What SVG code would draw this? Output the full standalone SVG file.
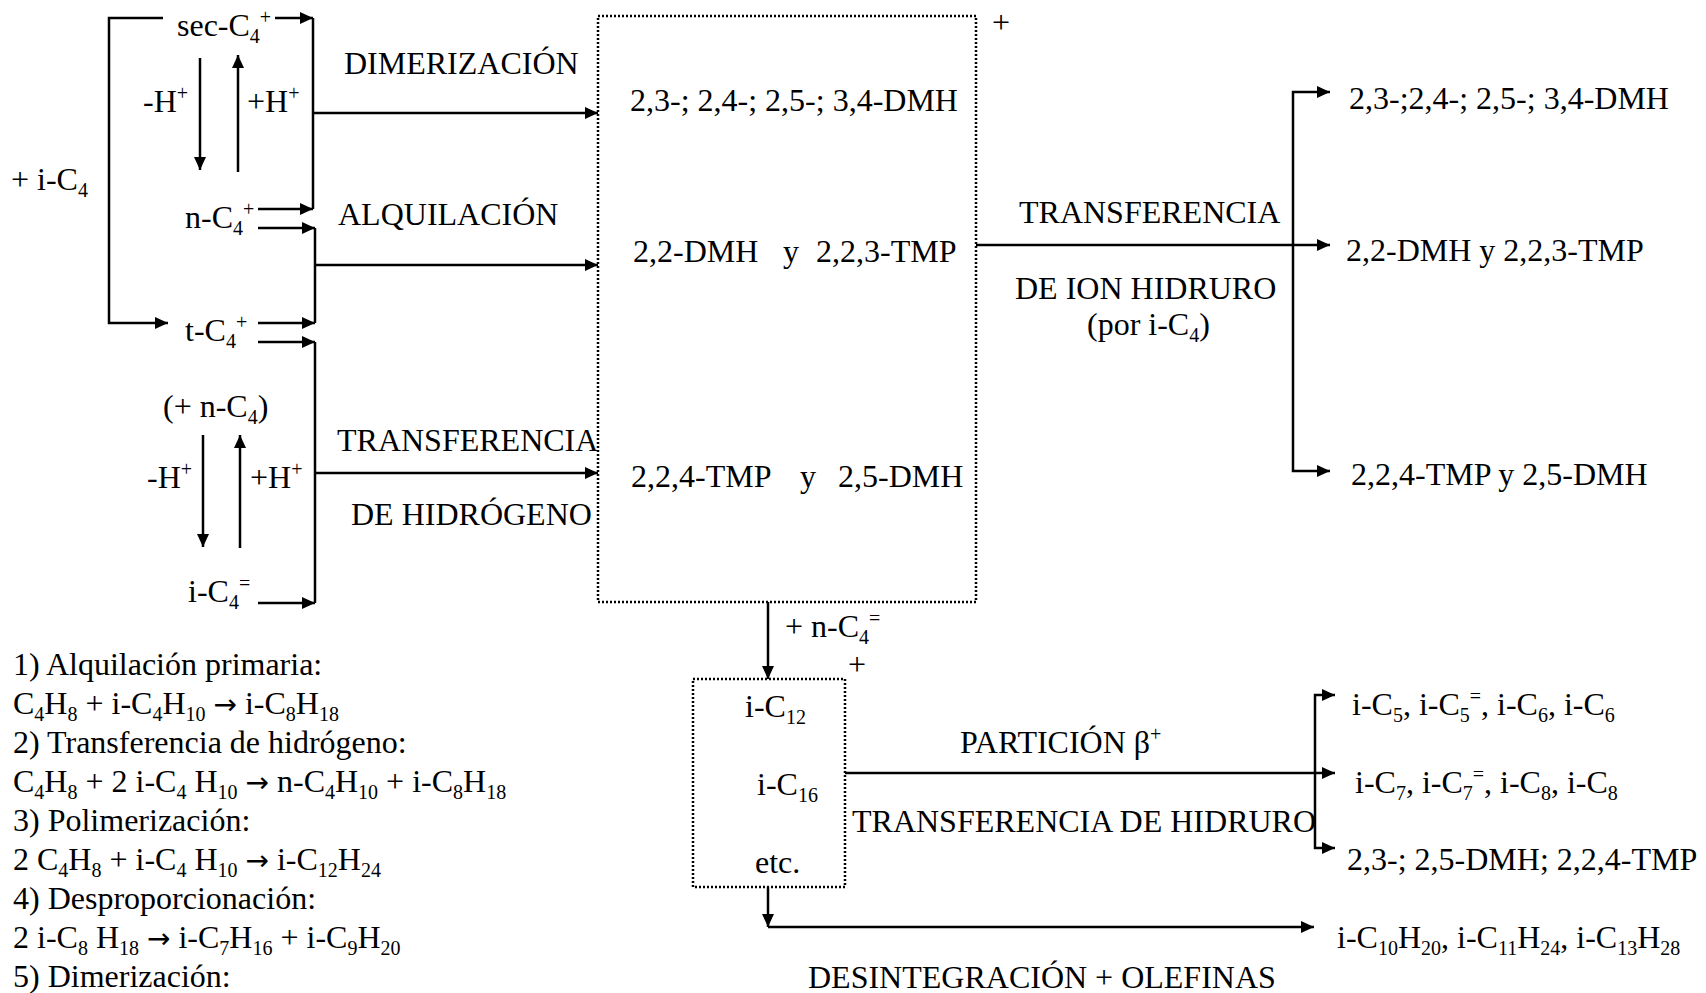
<svg xmlns="http://www.w3.org/2000/svg" width="1706" height="993" viewBox="0 0 1706 993">
<defs>
<style>
.t{font-family:"Liberation Serif","Times New Roman",serif;font-size:32px;fill:#000}
.s{font-size:20px}
.ar{font-family:"DejaVu Sans",sans-serif;font-size:28px}
.ln{fill:none;stroke:#000;stroke-width:2.5}
.box{fill:none;stroke:#000;stroke-width:2.5;stroke-dasharray:2 2}
</style>
<marker id="ah" markerUnits="userSpaceOnUse" markerWidth="14" markerHeight="12" refX="13" refY="6" orient="auto">
<path d="M0,0 L13,6 L0,12 z" fill="#000"/>
</marker>
</defs>
<rect width="1706" height="993" fill="#fff"/>

<g id="connectors">
<path class="ln" d="M163,18 H109 V323 H168" marker-end="url(#ah)"/>
<path class="ln" d="M275,18 H313" marker-end="url(#ah)"/>
<path class="ln" d="M313,18 V209"/>
<path class="ln" d="M313,113 H598" marker-end="url(#ah)"/>
<path class="ln" d="M258,209 H313" marker-end="url(#ah)"/>
<path class="ln" d="M258,228 H315" marker-end="url(#ah)"/>
<path class="ln" d="M315,228 V323"/>
<path class="ln" d="M315,265 H598" marker-end="url(#ah)"/>
<path class="ln" d="M258,323 H315" marker-end="url(#ah)"/>
<path class="ln" d="M258,342 H315" marker-end="url(#ah)"/>
<path class="ln" d="M315,342 V603"/>
<path class="ln" d="M315,473 H598" marker-end="url(#ah)"/>
<path class="ln" d="M258,603 H315" marker-end="url(#ah)"/>
<path class="ln" d="M200,58 V170" marker-end="url(#ah)"/>
<path class="ln" d="M238,172 V55" marker-end="url(#ah)"/>
<path class="ln" d="M203,435 V547" marker-end="url(#ah)"/>
<path class="ln" d="M240,548 V435" marker-end="url(#ah)"/>
<path class="ln" d="M976,245 H1330" marker-end="url(#ah)"/>
<path class="ln" d="M1293,245 V92 H1330" marker-end="url(#ah)"/>
<path class="ln" d="M1293,245 V471 H1330" marker-end="url(#ah)"/>
<path class="ln" d="M768,602 V679" marker-end="url(#ah)"/>
<path class="ln" d="M845,773 H1335" marker-end="url(#ah)"/>
<path class="ln" d="M1315,773 V695 H1335" marker-end="url(#ah)"/>
<path class="ln" d="M1315,773 V848 H1335" marker-end="url(#ah)"/>
<path class="ln" d="M768,887 V927" marker-end="url(#ah)"/>
<path class="ln" d="M768,927 H1314" marker-end="url(#ah)"/>
</g>

<g id="sec-c4">
<text class="t" x="177" y="36">sec-C<tspan class="s" dy="7">4</tspan><tspan class="s" dy="-19">+</tspan></text>
</g>
<g id="eq-labels-top">
<text class="t" x="143" y="112">-H<tspan class="s" dy="-12">+</tspan></text>
<text class="t" x="247" y="112">+H<tspan class="s" dy="-12">+</tspan></text>
<text class="t" x="11" y="190">+ i-C<tspan class="s" dy="7">4</tspan></text>
</g>
<g id="n-c4">
<text class="t" x="185" y="228">n-C<tspan class="s" dy="7">4</tspan><tspan class="s" dy="-19">+</tspan></text>
</g>
<g id="t-c4">
<text class="t" x="185" y="341">t-C<tspan class="s" dy="7">4</tspan><tspan class="s" dy="-19">+</tspan></text>
</g>
<g id="eq-labels-bottom">
<text class="t" x="163" y="417">(+ n-C<tspan class="s" dy="7">4</tspan><tspan dy="-7">)</tspan></text>
<text class="t" x="147" y="488">-H<tspan class="s" dy="-12">+</tspan></text>
<text class="t" x="250" y="488">+H<tspan class="s" dy="-12">+</tspan></text>
</g>
<g id="i-c4-olefin">
<text class="t" x="188" y="602">i-C<tspan class="s" dy="7">4</tspan><tspan class="s" dy="-19">=</tspan></text>
</g>

<g id="reaction-labels">
<text class="t" x="344" y="74">DIMERIZACIÓN</text>
<text class="t" x="338" y="225">ALQUILACIÓN</text>
<text class="t" x="337" y="451">TRANSFERENCIA</text>
<text class="t" x="351" y="525">DE HIDRÓGENO</text>
</g>

<g id="box-main">
<rect class="box" x="598" y="16" width="378" height="586"/>
<text class="t" x="630" y="111">2,3-; 2,4-; 2,5-; 3,4-DMH</text>
<text class="t" y="262"><tspan x="633">2,2-DMH</tspan><tspan x="783">y</tspan><tspan x="816">2,2,3-TMP</tspan></text>
<text class="t" y="487"><tspan x="631">2,2,4-TMP</tspan><tspan x="800">y</tspan><tspan x="838">2,5-DMH</tspan></text>
<text class="t" x="992" y="33">+</text>
</g>

<g id="hydride-transfer-label">
<text class="t" x="1019" y="223">TRANSFERENCIA</text>
<text class="t" x="1015" y="299">DE ION HIDRURO</text>
<text class="t" x="1087" y="335">(por i-C<tspan class="s" dy="7">4</tspan><tspan dy="-7">)</tspan></text>
</g>

<g id="products-top">
<text class="t" x="1349" y="109">2,3-;2,4-; 2,5-; 3,4-DMH</text>
<text class="t" x="1346" y="261">2,2-DMH y 2,2,3-TMP</text>
<text class="t" x="1351" y="485">2,2,4-TMP y 2,5-DMH</text>
</g>

<g id="box-heavy">
<rect class="box" x="693" y="679" width="152" height="208"/>
<text class="t" x="785" y="637">+ n-C<tspan class="s" dy="7">4</tspan><tspan class="s" dy="-19">=</tspan></text>
<text class="t" x="848" y="675">+</text>
<text class="t" x="745" y="717">i-C<tspan class="s" dy="7">12</tspan></text>
<text class="t" x="757" y="795">i-C<tspan class="s" dy="7">16</tspan></text>
<text class="t" x="755" y="873">etc.</text>
</g>

<g id="cracking-labels">
<text class="t" x="960" y="753">PARTICIÓN β<tspan class="s" dy="-12">+</tspan></text>
<text class="t" x="852" y="832">TRANSFERENCIA DE HIDRURO</text>
<text class="t" x="808" y="988">DESINTEGRACIÓN + OLEFINAS</text>
</g>

<g id="products-bottom">
<text class="t" x="1352" y="715">i-C<tspan class="s" dy="7">5</tspan><tspan dy="-7">, i-C</tspan><tspan class="s" dy="7">5</tspan><tspan class="s" dy="-19">=</tspan><tspan dy="12">, i-C</tspan><tspan class="s" dy="7">6</tspan><tspan dy="-7">, i-C</tspan><tspan class="s" dy="7">6</tspan></text>
<text class="t" x="1355" y="793">i-C<tspan class="s" dy="7">7</tspan><tspan dy="-7">, i-C</tspan><tspan class="s" dy="7">7</tspan><tspan class="s" dy="-19">=</tspan><tspan dy="12">, i-C</tspan><tspan class="s" dy="7">8</tspan><tspan dy="-7">, i-C</tspan><tspan class="s" dy="7">8</tspan></text>
<text class="t" x="1347" y="870">2,3-; 2,5-DMH; 2,2,4-TMP</text>
<text class="t" x="1337" y="948">i-C<tspan class="s" dy="7">10</tspan><tspan dy="-7">H</tspan><tspan class="s" dy="7">20</tspan><tspan dy="-7">, i-C</tspan><tspan class="s" dy="7">11</tspan><tspan dy="-7">H</tspan><tspan class="s" dy="7">24</tspan><tspan dy="-7">, i-C</tspan><tspan class="s" dy="7">13</tspan><tspan dy="-7">H</tspan><tspan class="s" dy="7">28</tspan></text>
</g>

<g id="reaction-list">
<text class="t" x="13" y="675">1) Alquilación primaria:</text>
<text class="t" x="13" y="714">C<tspan class="s" dy="7">4</tspan><tspan dy="-7">H</tspan><tspan class="s" dy="7">8</tspan><tspan dy="-7"> + i-C</tspan><tspan class="s" dy="7">4</tspan><tspan dy="-7">H</tspan><tspan class="s" dy="7">10</tspan><tspan dy="-7"> </tspan><tspan class="ar">→</tspan><tspan> i-C</tspan><tspan class="s" dy="7">8</tspan><tspan dy="-7">H</tspan><tspan class="s" dy="7">18</tspan></text>
<text class="t" x="13" y="753">2) Transferencia de hidrógeno:</text>
<text class="t" x="13" y="792">C<tspan class="s" dy="7">4</tspan><tspan dy="-7">H</tspan><tspan class="s" dy="7">8</tspan><tspan dy="-7"> + 2 i-C</tspan><tspan class="s" dy="7">4</tspan><tspan dy="-7"> H</tspan><tspan class="s" dy="7">10</tspan><tspan dy="-7"> </tspan><tspan class="ar">→</tspan><tspan> n-C</tspan><tspan class="s" dy="7">4</tspan><tspan dy="-7">H</tspan><tspan class="s" dy="7">10</tspan><tspan dy="-7"> + i-C</tspan><tspan class="s" dy="7">8</tspan><tspan dy="-7">H</tspan><tspan class="s" dy="7">18</tspan></text>
<text class="t" x="13" y="831">3) Polimerización:</text>
<text class="t" x="13" y="870">2 C<tspan class="s" dy="7">4</tspan><tspan dy="-7">H</tspan><tspan class="s" dy="7">8</tspan><tspan dy="-7"> + i-C</tspan><tspan class="s" dy="7">4</tspan><tspan dy="-7"> H</tspan><tspan class="s" dy="7">10</tspan><tspan dy="-7"> </tspan><tspan class="ar">→</tspan><tspan> i-C</tspan><tspan class="s" dy="7">12</tspan><tspan dy="-7">H</tspan><tspan class="s" dy="7">24</tspan></text>
<text class="t" x="13" y="909">4) Desproporcionación:</text>
<text class="t" x="13" y="948">2 i-C<tspan class="s" dy="7">8</tspan><tspan dy="-7"> H</tspan><tspan class="s" dy="7">18</tspan><tspan dy="-7"> </tspan><tspan class="ar">→</tspan><tspan> i-C</tspan><tspan class="s" dy="7">7</tspan><tspan dy="-7">H</tspan><tspan class="s" dy="7">16</tspan><tspan dy="-7"> + i-C</tspan><tspan class="s" dy="7">9</tspan><tspan dy="-7">H</tspan><tspan class="s" dy="7">20</tspan></text>
<text class="t" x="13" y="987">5) Dimerización:</text>
</g>
</svg>
